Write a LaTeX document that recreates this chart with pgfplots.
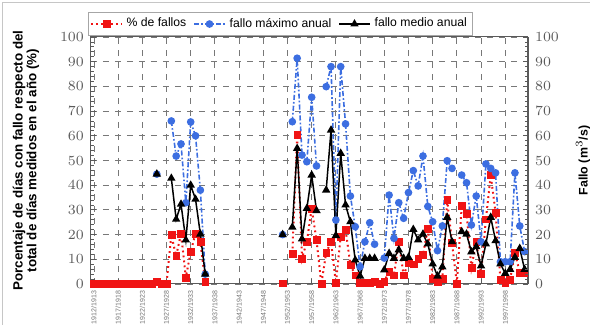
\documentclass[border=0pt]{standalone}
\usepackage{pgfplots}
\pgfplotsset{compat=1.18}
\usepackage{pgfplotstable}
\usepackage{fontspec}
\setmainfont{Liberation Sans}
\definecolor{cred}{RGB}{240,20,20}
\definecolor{cblue}{RGB}{60,110,225}
\definecolor{gridc}{RGB}{120,120,120}
\definecolor{tickc}{RGB}{90,90,90}

\pgfplotstableread{
year red blue black
1912 0 nan nan
1913 0 nan nan
1914 0 nan nan
1915 0 nan nan
1916 0 nan nan
1917 0 nan nan
1918 0 nan nan
1919 0 nan nan
1920 0 nan nan
1921 0 nan nan
1922 0 nan nan
1923 0 nan nan
1924 0 nan nan
1925 1 44.5 44.5
1926 0 nan nan
1927 0 nan nan
1928 19.8 66 42.8
1929 11.3 51.8 26.2
1930 20.5 56.7 32.3
1931 2.7 32.9 17.8
1932 13 65.6 40
1933 20.5 60 34.3
1934 17 38 20.2
1935 1 4 4
1936 nan nan nan
1950 nan nan nan
1951 0.3 20 20
1952 nan nan nan
1953 12.4 65.7 23
1954 60.3 91.4 54.9
1955 10.4 52.2 18.2
1956 17.1 49.5 30.6
1957 30.6 75.6 44.1
1958 17.8 47.8 29.7
1959 0 nan nan
1960 12.7 79.9 38
1961 17.1 88 62.3
1962 0.4 25.9 19.6
1963 19.2 88 52.9
1964 22.1 64.8 32
1965 7.7 35.6 25.2
1966 3.6 23.2 9.7
1967 0.4 7 3.2
1968 0.5 17.1 10.4
1969 0.5 24.8 10.4
1970 1 16.1 10.4
1971 0 nan nan
1972 1 10.5 5.7
1973 5 36 12.4
1974 3.6 18.5 10.4
1975 17.1 32.9 13.8
1976 3.6 26.6 10.4
1977 8.6 37 10.8
1978 8 45.9 22.1
1979 10.4 39.7 17.8
1980 11.7 51.8 20.2
1981 22.5 31.4 16.2
1982 2 25.2 8.1
1983 1 13.5 3.2
1984 2.2 23.5 6.9
1985 34 49.9 27
1986 16.7 46.8 17.1
1987 0 nan nan
1988 31.6 44.1 21.2
1989 28.6 41 20.2
1990 6.7 23.9 13
1991 17.1 35.6 15.1
1992 4.3 17.1 7.3
1993 26.2 48.6 16.2
1994 44.1 46.8 27
1995 28.9 45 17.5
1996 1.7 9 8.1
1997 0.4 9 4.3
1998 1.7 9 5.9
1999 12.8 45 10.8
2000 4.5 23.5 14.4
2001 4.5 13.1 5.9
}\datatable

\begin{document}
\begin{tikzpicture}
\useasboundingbox (0,0) rectangle (295pt,162.5pt);
\draw[gray!45, line width=0.5pt] (1.2pt,0) -- (1.2pt,161.3pt) -- (295pt,161.3pt);
\begin{axis}[
  at={(45.5pt,20.5pt)}, anchor=south west,
  scale only axis, width=218.5pt, height=123.5pt,
  xmin=1911.4, xmax=2001.7, ymin=0, ymax=100,
  xtick={1912,1917,...,1997},
  xticklabels={1912/1913,1917/1918,1922/1923,1927/1928,1932/1933,1937/1938,1942/1943,1947/1948,1952/1953,1957/1958,1962/1963,1967/1968,1972/1973,1977/1978,1982/1983,1987/1988,1992/1993,1997/1998},
  x tick label style={rotate=90, anchor=east, font=\fontsize{3.5}{3.8}\selectfont, text=gray!90!black},
  ytick={0,10,...,100}, minor y tick num=4,
  ytick pos=left, xtick pos=bottom,
  y tick label style={font=\fontsize{6.8}{8}\selectfont, text=tickc},
  grid=major, major grid style={dashed, gridc, line width=0.4pt},
  axis line style={tickc, line width=0.5pt},
  tick style={tickc, line width=0.4pt},
  major tick length=2.5pt, minor tick length=1.3pt,
  unbounded coords=jump,
  ylabel={Porcentaje de días con fallo respecto del\\total de días medidos en el año (\%)},
  ylabel style={at={(axis description cs:-0.149,0.5)}, anchor=center, align=center, font=\fontsize{6.7}{6.9}\selectfont\bfseries},
  legend columns=3,
  legend image code/.code={\draw[mark repeat=2,mark phase=2] plot coordinates {(0cm,0cm) (0.27cm,0cm) (0.54cm,0cm)};},
  legend style={at={(axis description cs:-0.007,1.101)}, anchor=north west, font=\fontsize{6.1}{7}\selectfont, draw=gray!70, line width=0.4pt, inner sep=0.8pt, /tikz/every even column/.append style={column sep=1.5pt}},
  legend cell align=left,
]
\addplot[cred, line width=1pt, dash pattern=on 0.9pt off 1.6pt, mark=square*, mark size=1.7pt, mark options={solid, fill=cred, draw=cred, line width=0.2pt}] table[x=year, y=red] {\datatable};
\addlegendentry{\% de fallos}
\addplot[cblue, line width=0.8pt, dash pattern=on 2.5pt off 1.1pt on 0.8pt off 1.1pt, mark=*, mark size=1.5pt, mark options={solid, fill=cblue, draw=cblue}] table[x=year, y=blue] {\datatable};
\addlegendentry{fallo máximo anual}
\addplot[black, line width=0.75pt, mark=triangle*, mark size=1.7pt, mark options={solid, fill=black}] table[x=year, y=black] {\datatable};
\addlegendentry{fallo medio anual}
\end{axis}
\begin{axis}[
  at={(45.5pt,20.5pt)}, anchor=south west,
  scale only axis, width=218.5pt, height=123.5pt,
  xmin=1911.4, xmax=2001.7, ymin=0, ymax=100,
  axis x line=none, axis y line*=right,
  ytick={0,10,...,100}, minor y tick num=4,
  y tick label style={font=\fontsize{6.8}{8}\selectfont, text=tickc},
  axis line style={tickc, line width=0.5pt},
  tick style={tickc, line width=0.4pt},
  major tick length=2.5pt, minor tick length=1.3pt,
  clip=false,
]
\addplot[draw=none] coordinates {(1912,0)};
\node[rotate=90, anchor=center, font=\fontsize{6.2}{7}\selectfont\bfseries] at (axis description cs:1.126,0.5) {Fallo (m$^{3}$/s)};
\end{axis}
\end{tikzpicture}
\end{document}
